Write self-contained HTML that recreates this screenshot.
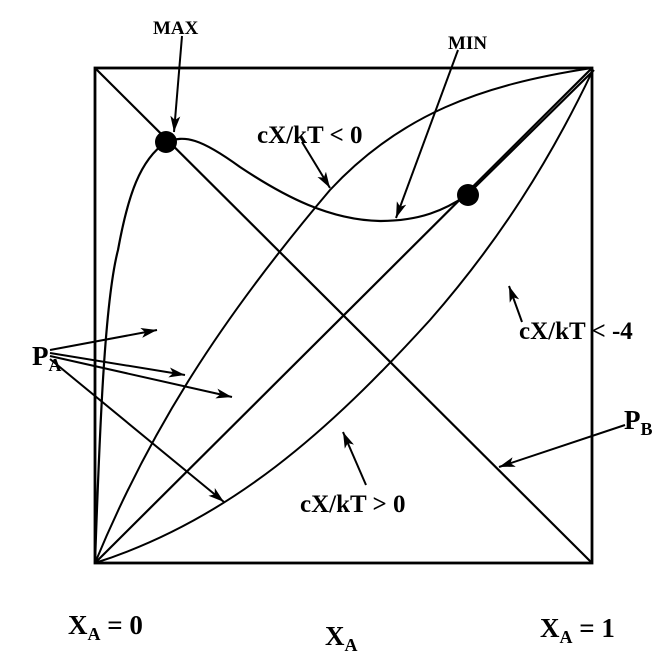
<!DOCTYPE html>
<html><head><style>
html,body{margin:0;padding:0;background:#fff;}
svg{display:block;}
text{font-family:"Liberation Serif",serif;font-weight:bold;fill:#000;}
</style></head><body>
<svg width="662" height="653" viewBox="0 0 662 653" xmlns="http://www.w3.org/2000/svg">
<defs>
<marker id="ah" viewBox="0 0 16 10" refX="16" refY="5" markerWidth="16" markerHeight="10" markerUnits="userSpaceOnUse" orient="auto">
<path d="M0,0 L16,5 L0,10 L4,5 Z" fill="#000"/>
</marker>
</defs>
<g fill="none" stroke="#000">
<rect x="95" y="68" width="497" height="495" stroke-width="2.8"/>
<line x1="95" y1="68" x2="592" y2="563" stroke-width="2.2"/>
<line x1="95" y1="563" x2="592" y2="68" stroke-width="2.2"/>
<line x1="467" y1="195" x2="594" y2="70" stroke-width="2.2"/>
<path d="M95,563 C100,420 105,300 118,250 C128,195 140,160 166,142 C185,135 200,138 240,167 C285,197 330,220 380,221 C420,221 445,210 467,195" stroke-width="2.2"/>
<path d="M95,563 C150,430 220,320 330,190 C400,115 480,85 592,68" stroke-width="2"/>
<path d="M95,563 C230,520 330,430 430,320 C500,240 550,160 592,72" stroke-width="2"/>
</g>
<circle cx="166" cy="142" r="11"/>
<circle cx="468" cy="195" r="11"/>
<g stroke="#000" stroke-width="2" marker-end="url(#ah)">
<line x1="182" y1="36" x2="174" y2="132"/>
<line x1="458" y1="50" x2="396" y2="218"/>
<line x1="302" y1="142" x2="330" y2="188"/>
<line x1="50" y1="350" x2="157" y2="330"/>
<line x1="50" y1="353" x2="185" y2="375"/>
<line x1="50" y1="356" x2="232" y2="397"/>
<line x1="50" y1="359" x2="224" y2="502"/>
<line x1="625" y1="425" x2="499" y2="467"/>
<line x1="522" y1="322" x2="509" y2="286"/>
<line x1="366" y1="485" x2="343" y2="432"/>
</g>
<text x="153" y="34" font-size="19">MAX</text>
<text x="448" y="49" font-size="19">MIN</text>
<text x="257" y="143" font-size="25">cX/kT &lt; 0</text>
<text x="519" y="339" font-size="25">cX/kT &lt; -4</text>
<text x="300" y="512" font-size="25">cX/kT &gt; 0</text>
<text x="32" y="365" font-size="27">P<tspan font-size="18" dy="6">A</tspan></text>
<text x="624" y="429" font-size="27">P<tspan font-size="18" dy="6">B</tspan></text>
<text x="68" y="634" font-size="27">X<tspan font-size="18" dy="6">A</tspan><tspan dy="-6"> = 0</tspan></text>
<text x="325" y="645" font-size="27">X<tspan font-size="18" dy="6">A</tspan></text>
<text x="540" y="637" font-size="27">X<tspan font-size="18" dy="6">A</tspan><tspan dy="-6"> = 1</tspan></text>
</svg>
</body></html>
